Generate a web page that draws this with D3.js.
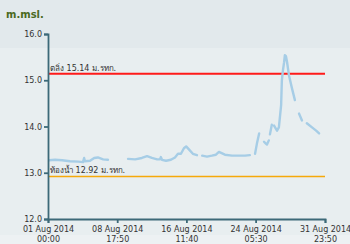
<!DOCTYPE html>
<html>
<head>
<meta charset="utf-8">
<script src="https://cdn.jsdelivr.net/npm/d3@7"></script>
<style>
  body { margin: 0; background: #e8eef0; }
  svg { display: block; font-family: "DejaVu Sans", sans-serif; }
</style>
</head>
<body>
<svg id="canvas"></svg>
<script>
// water level chart, m.msl.
let width = 350
let height = 244

// readings (null = no data)
let times = [
  '2014-08-01 03:00', '2014-08-01 19:00', '2014-08-02 14:00', '2014-08-03 11:00', '2014-08-04 09:00',
  '2014-08-04 22:00', '2014-08-05 01:00', '2014-08-05 03:00', '2014-08-05 17:00', '2014-08-06 04:00',
  '2014-08-06 14:00', '2014-08-07 04:00', '2014-08-07 17:00', '2014-08-08 12:00',
  '2014-08-09 23:00', '2014-08-10 18:00', '2014-08-11 12:00', '2014-08-12 02:00', '2014-08-12 15:00',
  '2014-08-13 05:00', '2014-08-13 13:00', '2014-08-13 15:00', '2014-08-13 18:00', '2014-08-14 05:00',
  '2014-08-14 18:00', '2014-08-15 05:00', '2014-08-15 13:00', '2014-08-15 21:00', '2014-08-16 05:00',
  '2014-08-16 11:00', '2014-08-16 19:00', '2014-08-17 05:00', '2014-08-17 16:00', '2014-08-17 22:00',
  '2014-08-18 06:00', '2014-08-18 19:00', '2014-08-19 08:00', '2014-08-19 19:00', '2014-08-20 03:00',
  '2014-08-20 19:00', '2014-08-21 14:00', '2014-08-22 12:00', '2014-08-23 01:00', '2014-08-23 14:00',
  '2014-08-23 20:00',
  '2014-08-24 04:00', '2014-08-24 09:00', '2014-08-24 15:00', '2014-08-24 22:00',
  '2014-08-25 04:00', '2014-08-25 09:00', '2014-08-25 12:00', '2014-08-25 17:00', '2014-08-25 18:00',
  '2014-08-25 20:00', '2014-08-26 01:00', '2014-08-26 04:00',
  '2014-08-26 07:00', '2014-08-26 15:00', '2014-08-26 20:00', '2014-08-27 02:00', '2014-08-27 04:00',
  '2014-08-27 07:00', '2014-08-27 10:00', '2014-08-27 12:00', '2014-08-27 15:00', '2014-08-27 18:00',
  '2014-08-27 23:00', '2014-08-28 07:00', '2014-08-28 15:00', '2014-08-28 20:00',
  '2014-08-29 02:00', '2014-08-29 10:00', '2014-08-29 16:00',
  '2014-08-29 23:00', '2014-08-30 13:00', '2014-08-31 00:00', '2014-08-31 08:00'
]
let levels = [
  13.27, 13.28, 13.27, 13.25, 13.24,
  13.23, 13.32, 13.25, 13.26, 13.32,
  13.33, 13.29, 13.28, null,
  13.30, 13.29, 13.32, 13.36, 13.32,
  13.29, 13.29, 13.34, 13.28, 13.26,
  13.28, 13.33, 13.41, 13.41, 13.53,
  13.57, 13.50, 13.41, 13.38, null,
  13.37, 13.35, 13.37, 13.39, 13.45,
  13.39, 13.37, 13.37, 13.37, 13.38,
  null,
  13.41, 13.63, 13.85, null,
  13.67, 13.63, 13.61, 13.70, null,
  13.83, 14.04, null,
  14.02, 13.91, 13.98, 14.46, 15.00,
  15.22, 15.39, 15.54, 15.52, 15.39,
  15.11, 14.83, 14.57, null,
  14.28, 14.13, null,
  14.07, 13.98, 13.91, 13.85
]

// reference levels
let bankLevel = 15.14
let bedLevel = 12.92
let bankLabel = 'ตลิ่ง 15.14 ม.รทก.'
let bedLabel = 'ท้องน้ำ 12.92 ม.รทก.'

let yTicks = [12, 13, 14, 15, 16]
let xTicks = ['2014-08-01 00:00', '2014-08-08 17:50', '2014-08-16 11:40', '2014-08-24 05:30', '2014-08-31 23:50']

let parse = d3.timeParse('%Y-%m-%d %H:%M')

let margin = {top: 34, left: 48, right: 25, bottom: 25}

let svg = d3.select('#canvas')
            .attr('width', width)
            .attr('height', height)

// background bands
svg.append('rect').attr('width', width).attr('height', height).attr('fill', '#e8eef0')
svg.append('rect').attr('width', width).attr('height', 48).attr('fill', '#e2e9ec')
svg.append('rect').attr('y', 235).attr('width', width).attr('height', 9).attr('fill', '#edf1f3')

let x = d3.scaleTime()
          .domain([parse(xTicks[0]), parse(xTicks[xTicks.length - 1])])
          .range([margin.left, width - margin.right])

let y = d3.scaleLinear()
          .domain([12, 16])
          .range([height - margin.bottom, margin.top])

let data = times.map((t, i) => {
    return {date: parse(t), value: levels[i]}
})

// threshold lines
svg.append('line')
   .attr('x1', x.range()[0]).attr('x2', x.range()[1])
   .attr('y1', y(bankLevel)).attr('y2', y(bankLevel))
   .attr('stroke', '#ff1a1a').attr('stroke-width', 2)

svg.append('line')
   .attr('x1', x.range()[0]).attr('x2', x.range()[1])
   .attr('y1', y(bedLevel)).attr('y2', y(bedLevel))
   .attr('stroke', '#f5a90a').attr('stroke-width', 1.6)

svg.append('text')
   .attr('x', margin.left + 2).attr('y', y(bankLevel) - 3)
   .attr('font-size', 8).attr('fill', '#333')
   .text(bankLabel)

svg.append('text')
   .attr('x', margin.left + 2).attr('y', y(bedLevel) - 3)
   .attr('font-size', 8).attr('fill', '#333')
   .text(bedLabel)

// water level
let line = d3.line()
             .defined((d) => d.value !== null)
             .x((d) => x(d.date))
             .y((d) => y(d.value))

svg.append('path')
   .datum(data)
   .attr('d', line)
   .attr('fill', 'none')
   .attr('stroke', '#a6cde6')
   .attr('stroke-width', 2.4)
   .attr('stroke-linejoin', 'round')
   .attr('stroke-linecap', 'round')

// axes
let yAxis = svg.append('g')
   .attr('transform', 'translate(' + margin.left + ',0)')
   .call(d3.axisLeft(y).tickValues(yTicks).tickFormat(d3.format('.1f')).tickSize(4).tickPadding(2))

let xAxis = svg.append('g')
   .attr('transform', 'translate(0,' + (height - margin.bottom) + ')')
   .call(d3.axisBottom(x).tickValues(xTicks.map(parse)).tickFormat('').tickSize(4))

xAxis.selectAll('.tick').append('text')
     .attr('fill', '#333')
     .attr('text-anchor', 'middle')
     .attr('y', 13)
     .call((t) => {
         t.append('tspan').attr('x', 0).text((d) => d3.timeFormat('%d %b %Y')(d))
         t.append('tspan').attr('x', 0).attr('dy', 10).text((d) => d3.timeFormat('%H:%M')(d))
     })

svg.selectAll('.domain, .tick line').attr('stroke', '#3c6978').attr('stroke-width', 1.8)
svg.selectAll('.tick text').attr('fill', '#333').attr('font-size', 8).attr('font-family', '"DejaVu Sans", sans-serif')

svg.append('text')
   .attr('x', 6).attr('y', 18)
   .attr('font-size', 10).attr('font-weight', 'bold').attr('fill', '#4b6a1e')
   .text('m.msl.')
</script>
</body>
</html>
